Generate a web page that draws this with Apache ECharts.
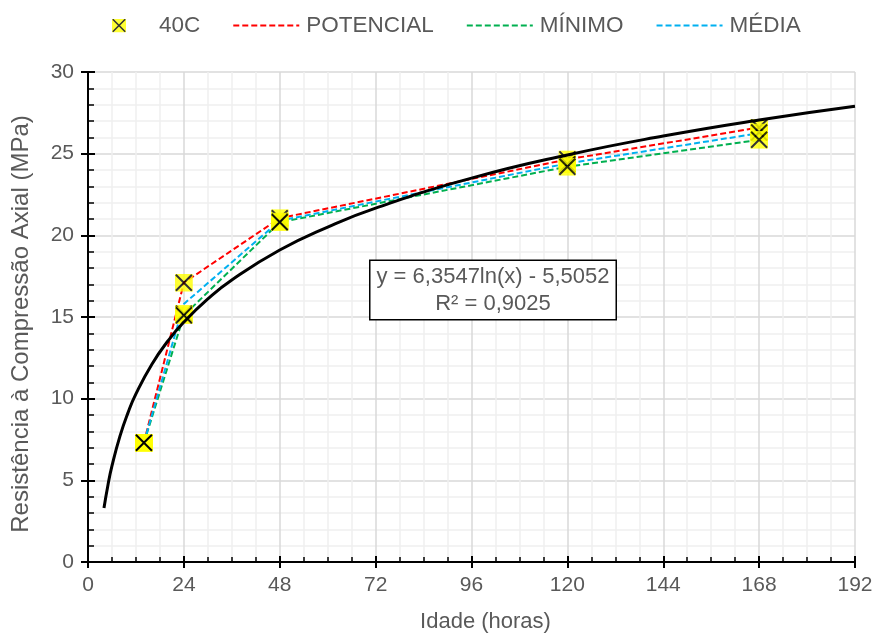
<!DOCTYPE html>
<html lang="pt">
<head>
    <meta charset="UTF-8">
    <title>Resistência à Compressão Axial - 40C</title>
    <script src="https://cdn.jsdelivr.net/npm/echarts@6/dist/echarts.min.js"></script>
    <style>
        html, body { margin: 0; padding: 0; background: #fff; }
        #chart { width: 876px; height: 635px; }
    </style>
</head>
<body>
<div id="chart"></div>
<script>
// idades dos ensaios (horas)
var hours = [14, 24, 48, 120, 168];
// corpos de prova 40C (3 por idade)
var sample1 = [7.3, 17.1, 21.05, 24.65, 26.6];
var sample2 = [7.3, 15.2, 20.85, 24.35, 26.3];
var sample3 = [7.3, 15.1, 20.8, 24.2, 25.85];
// curvas
var potencial = [7.3, 17.1, 21.05, 24.65, 26.6];
var minimo = [7.3, 15.1, 20.8, 24.2, 25.85];
var media = [7.3, 15.8, 20.9, 24.4, 26.25];
// linha de tendência logarítmica
var trendHours = [4, 5, 6, 8, 10, 12, 16, 20, 24, 30, 36, 48, 60, 72, 96, 120, 144, 168, 192];
var trendValues = [3.30, 4.72, 5.88, 7.71, 9.13, 10.29, 12.11, 13.53, 14.69, 16.11, 17.27, 19.10, 20.51, 21.67, 23.50, 24.92, 26.08, 27.06, 27.90];
var xTicks = [0, 24, 48, 72, 96, 120, 144, 168, 192];
var yTicks = [0, 5, 10, 15, 20, 25, 30];
var equation = 'y = 6,3547ln(x) - 5,5052';
var rSquared = 'R² = 0,9025';

var FONT = "'Liberation Sans', Arial, sans-serif";
var GREY = '#595959';

function pairs(xs, ys) {
  return xs.map(function (x, i) { return [x, ys[i]]; });
}

var samples = [];
[sample1, sample2, sample3].forEach(function (s) {
  samples = samples.concat(pairs(hours, s));
});

// marcador: quadrado amarelo com X preto
var markerSvg = "<svg xmlns='http://www.w3.org/2000/svg' width='36' height='36'>" +
  "<rect width='36' height='36' fill='#FFFF00'/>" +
  "<path d='M2 2L34 34M34 2L2 34' stroke='#000' stroke-width='4'/></svg>";
var markerIcon = 'image://data:image/svg+xml;charset=utf-8,' + encodeURIComponent(markerSvg);

var myChart = echarts.init(document.getElementById('chart'));

var xAxisBase = {
  type: 'value',
  min: xTicks[0],
  max: xTicks[xTicks.length - 1],
  interval: 24
};
var yAxisBase = {
  type: 'value',
  min: yTicks[0],
  max: yTicks[yTicks.length - 1],
  interval: 5
};

var option = {
  animation: false,
  textStyle: { fontFamily: FONT },
  grid: { left: 88, right: 21, top: 72, bottom: 73, containLabel: false, outerBoundsMode: 'none' },
  legend: {
    top: 9,
    left: 81,
    itemWidth: 66,
    itemHeight: 14,
    itemGap: 32,
    textStyle: { fontSize: 22.5, color: GREY, fontFamily: FONT, padding: [0, 0, 0, 2] },
    data: [
      { name: '40C', icon: markerIcon },
      { name: 'POTENCIAL', itemStyle: { opacity: 0 } },
      { name: 'MÍNIMO', itemStyle: { opacity: 0 } },
      { name: 'MÉDIA', itemStyle: { opacity: 0 } }
    ]
  },
  xAxis: [
    Object.assign({}, xAxisBase, {
      name: 'Idade (horas)',
      nameLocation: 'middle',
      nameGap: 49,
      nameTextStyle: { fontSize: 22, color: GREY, fontFamily: FONT, padding: [0, 0, 0, 28] },
      axisLine: { lineStyle: { color: '#000', width: 2 } },
      axisTick: { show: true, inside: true, length: 6, lineStyle: { color: '#000', width: 2 } },
      minorTick: { show: true, splitNumber: 4, length: 5, lineStyle: { color: '#000', width: 1.5 } },
      axisLabel: { fontSize: 21, color: GREY, margin: 13, fontFamily: FONT },
      splitLine: { show: true, lineStyle: { color: '#d9d9d9', width: 1.5 } },
      minorSplitLine: { show: true, lineStyle: { color: '#f0f0f0', width: 1.5 } }
    }),
    Object.assign({}, xAxisBase, {
      position: 'bottom',
      axisLine: { show: false },
      axisTick: { show: true, inside: false, length: 6, lineStyle: { color: '#000', width: 2 } },
      axisLabel: { show: false },
      splitLine: { show: false }
    })
  ],
  yAxis: [
    Object.assign({}, yAxisBase, {
      name: 'Resistência à Compressão Axial (MPa)',
      nameLocation: 'middle',
      nameGap: 55,
      nameTextStyle: { fontSize: 24, color: GREY, fontFamily: FONT, padding: [0, 14, 0, 0] },
      axisLine: { show: true, lineStyle: { color: '#000', width: 2 } },
      axisTick: { show: true, inside: true, length: 7, lineStyle: { color: '#000', width: 2 } },
      minorTick: { show: true, splitNumber: 5, length: 6, lineStyle: { color: '#000', width: 1.5 } },
      axisLabel: { fontSize: 21, color: GREY, margin: 14, fontFamily: FONT },
      splitLine: { show: true, lineStyle: { color: '#d9d9d9', width: 1.5 } },
      minorSplitLine: { show: true, lineStyle: { color: '#f0f0f0', width: 1.5 } }
    }),
    Object.assign({}, yAxisBase, {
      position: 'left',
      axisLine: { show: false },
      axisTick: { show: true, inside: false, length: 7, lineStyle: { color: '#000', width: 2 } },
      axisLabel: { show: false },
      splitLine: { show: false }
    })
  ],
  series: [
    {
      name: 'POTENCIAL',
      type: 'line',
      data: pairs(hours, potencial),
      symbol: 'none',
      z: 3,
      lineStyle: { color: '#FF0000', width: 2, type: [6, 3] },
      itemStyle: { color: '#FF0000' }
    },
    {
      name: 'MÍNIMO',
      type: 'line',
      data: pairs(hours, minimo),
      symbol: 'none',
      z: 3,
      lineStyle: { color: '#00B050', width: 2, type: [6, 3] },
      itemStyle: { color: '#00B050' }
    },
    {
      name: 'MÉDIA',
      type: 'line',
      data: pairs(hours, media),
      symbol: 'none',
      z: 3,
      lineStyle: { color: '#00B0F0', width: 2, type: [6, 3] },
      itemStyle: { color: '#00B0F0' }
    },
    {
      name: '40C',
      type: 'scatter',
      data: samples,
      symbol: markerIcon,
      symbolSize: 18,
      z: 4
    },
    {
      name: 'tendência',
      type: 'line',
      data: pairs(trendHours, trendValues),
      smooth: true,
      symbol: 'none',
      z: 5,
      lineStyle: { color: '#000', width: 3 }
    }
  ],
  graphic: [
    {
      type: 'text',
      x: 493,
      y: 290,
      z: 10,
      style: {
        text: equation + '\n' + rSquared,
        fontSize: 22,
        fontFamily: FONT,
        fill: GREY,
        align: 'center',
        verticalAlign: 'middle',
        lineHeight: 27,
        backgroundColor: '#fff',
        borderColor: '#000',
        borderWidth: 1.5,
        padding: [2, 6, 2, 6]
      }
    }
  ]
};

myChart.setOption(option);
</script>
</body>
</html>
